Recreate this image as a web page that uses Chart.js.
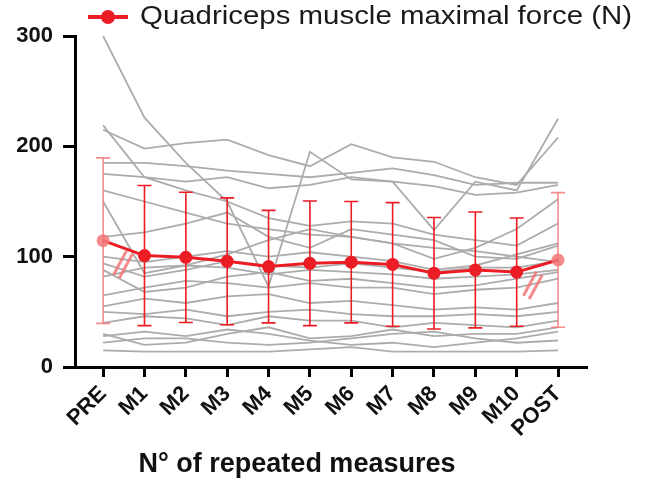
<!DOCTYPE html>
<html>
<head>
<meta charset="utf-8">
<script src="https://cdn.jsdelivr.net/npm/chart.js@4.4.0/dist/chart.umd.min.js"></script>
<style>
    body { margin: 0; background: #ffffff; }
    #grafico-container { width: 653px; height: 484px; }
</style>
</head>
<body>
<div id="grafico-container">
    <canvas id="grafico-forca"></canvas>
</div>
<script>
// medidas repetidas (eixo x)
let medidas = ['PRE', 'M1', 'M2', 'M3', 'M4', 'M5', 'M6', 'M7', 'M8', 'M9', 'M10', 'POST'];

// media e desvio padrao (N)
let medias = [114.5, 101, 99.4, 95.8, 91, 94, 95, 93, 85, 88, 86, 97];
let desvios = [75, 63.5, 59, 57.5, 51, 56.5, 55, 56, 50.5, 52.5, 49, 61];

let ticksY = [0, 100, 200, 300];

// cada participante (N)
let sujeito1 = [300, 226, 185, 150, 73, 195, 170, 168, 124, 168, 160, 225];
let sujeito2 = [219, 172, 160, 150, 135, 128, 132, 130, 120, 115, 110, 130];
let sujeito3 = [215, 198, 203, 206, 192, 182, 202, 190, 186, 172, 165, 208];
let sujeito4 = [185, 185, 182, 178, 175, 172, 176, 180, 174, 165, 167, 167];
let sujeito5 = [175, 172, 168, 172, 162, 165, 172, 168, 164, 156, 158, 165];
let sujeito6 = [150, 85, 92, 102, 115, 125, 118, 112, 98, 108, 125, 152];
let sujeito7 = [118, 122, 130, 140, 118, 108, 125, 120, 115, 100, 98, 110];
let sujeito8 = [100, 95, 100, 105, 100, 104, 100, 96, 88, 92, 102, 112];
let sujeito9 = [94, 82, 88, 96, 92, 90, 94, 90, 86, 90, 90, 96];
let sujeito10 = [88, 68, 72, 82, 86, 78, 80, 76, 72, 74, 80, 86];
let sujeito11 = [82, 90, 92, 90, 84, 88, 86, 84, 80, 82, 84, 88];
let sujeito12 = [65, 72, 78, 76, 72, 76, 72, 72, 66, 70, 72, 80];
let sujeito13 = [55, 62, 58, 64, 66, 58, 60, 56, 52, 54, 52, 58];
let sujeito14 = [50, 48, 52, 46, 50, 52, 48, 46, 46, 48, 46, 50];
let sujeito15 = [40, 46, 44, 38, 46, 42, 42, 36, 40, 38, 36, 42];
let sujeito16 = [28, 32, 28, 34, 30, 24, 20, 22, 18, 22, 26, 32];
let sujeito17 = [22, 26, 26, 22, 20, 22, 26, 30, 32, 26, 22, 24];
let sujeito18 = [30, 20, 22, 30, 36, 26, 28, 34, 28, 30, 30, 36];
let sujeito19 = [15, 14, 14, 14, 14, 16, 18, 14, 14, 14, 14, 15];
let sujeito20 = [160, 150, 140, 130, 125, 120, 118, 112, 108, 105, 100, 95];

let sujeitos = [sujeito1, sujeito2, sujeito3, sujeito4, sujeito5, sujeito6, sujeito7, sujeito8, sujeito9, sujeito10,
    sujeito11, sujeito12, sujeito13, sujeito14, sujeito15, sujeito16, sujeito17, sujeito18, sujeito19, sujeito20];

// posicao das marcas de quebra (//) em valores do grafico
let quebrasX = [0.48, 10.39];
let quebrasY = [93, 74];

let corVermelha = 'rgb(236, 28, 36)';
let corClara = 'rgba(242, 120, 120, 0.85)';
let corCinza = 'rgb(172, 172, 172)';

function pontos(valores) {
    return valores.map(function (v, i) { return { x: i, y: v }; });
}

let conjuntos = [{
    label: 'Quadriceps muscle maximal force (N)',
    data: pontos(medias),
    borderColor: corVermelha,
    borderWidth: 3,
    pointRadius: 6.5,
    pointHoverRadius: 6.5,
    pointBorderWidth: 0,
    pointBackgroundColor: medias.map(function (v, i) {
        return (i == 0 || i == medias.length - 1) ? corClara : corVermelha;
    }),
    order: 0
}];

for (let i = 0; i < sujeitos.length; i++) {
    conjuntos.push({
        label: 'sujeito ' + (i + 1),
        data: pontos(sujeitos[i]),
        borderColor: corCinza,
        borderWidth: 1.8,
        pointRadius: 0,
        order: 1
    });
}

const extras = {
    id: 'extras',
    beforeDatasetDraw(chart, args) {
        if (args.index != 0) return;
        let ctx = chart.ctx;
        let x = chart.scales.x;
        let y = chart.scales.y;
        ctx.save();
        ctx.lineWidth = 1.6;
        for (let i = 0; i < medias.length; i++) {
            let px = x.getPixelForValue(i);
            let topo = y.getPixelForValue(medias[i] + desvios[i]);
            let base = y.getPixelForValue(medias[i] - desvios[i]);
            ctx.strokeStyle = (i == 0 || i == medias.length - 1) ? corClara : corVermelha;
            ctx.beginPath();
            ctx.moveTo(px, topo);
            ctx.lineTo(px, base);
            ctx.moveTo(px - 7, topo);
            ctx.lineTo(px + 7, topo);
            ctx.moveTo(px - 7, base);
            ctx.lineTo(px + 7, base);
            ctx.stroke();
        }
        ctx.restore();
    },
    afterDatasetsDraw(chart) {
        let ctx = chart.ctx;
        let x = chart.scales.x;
        let y = chart.scales.y;
        ctx.save();
        ctx.strokeStyle = corClara;
        ctx.lineWidth = 3;
        for (let i = 0; i < quebrasX.length; i++) {
            let cx = x.getPixelForValue(quebrasX[i]);
            let cy = y.getPixelForValue(quebrasY[i]);
            let dx = 6.5, dy = -12;
            for (let k = -1; k <= 1; k += 2) {
                let ox = k * 2.9, oy = k * 1.6;
                ctx.beginPath();
                ctx.moveTo(cx - dx + ox, cy - dy + oy);
                ctx.lineTo(cx + dx + ox, cy + dy + oy);
                ctx.stroke();
            }
        }
        ctx.restore();
    },
    afterDraw(chart) {
        let ctx = chart.ctx;
        let area = chart.chartArea;
        ctx.save();

        // legenda
        let ly = 17;
        ctx.strokeStyle = corVermelha;
        ctx.lineWidth = 4;
        ctx.beginPath();
        ctx.moveTo(area.left + 13, ly);
        ctx.lineTo(area.left + 53, ly);
        ctx.stroke();
        ctx.fillStyle = corVermelha;
        ctx.beginPath();
        ctx.arc(area.left + 33, ly, 7, 0, Math.PI * 2);
        ctx.fill();

        let texto = conjuntos[0].label;
        ctx.font = '25px "Liberation Sans", Arial, sans-serif';
        ctx.fillStyle = '#1a1a1a';
        ctx.textBaseline = 'middle';
        let largura = ctx.measureText(texto).width;
        ctx.translate(area.left + 65, ly);
        ctx.scale(492 / largura, 1);
        ctx.fillText(texto, 0, 0);
        ctx.restore();

        // titulo do eixo x
        ctx.save();
        ctx.font = 'bold 27px "Liberation Sans", Arial, sans-serif';
        ctx.fillStyle = '#111111';
        ctx.textAlign = 'center';
        ctx.textBaseline = 'middle';
        ctx.fillText('N° of repeated measures', area.left + 222, 465);
        ctx.restore();
    }
};

Chart.defaults.font.family = '"Liberation Sans", Arial, sans-serif';
Chart.defaults.color = '#111111';

let config = {
    type: 'line',
    data: { datasets: conjuntos },
    options: {
        responsive: true,
        maintainAspectRatio: false,
        animation: false,
        layout: {
            padding: { top: 36, right: 66, left: 0, bottom: 0 }
        },
        plugins: {
            legend: { display: false },
            tooltip: { enabled: false }
        },
        scales: {
            x: {
                type: 'linear',
                min: -0.68,
                max: 11.7,
                afterFit: function (scale) { scale.height = 117; },
                afterBuildTicks: function (scale) {
                    scale.ticks = medidas.map(function (m, i) { return { value: i }; });
                },
                ticks: {
                    autoSkip: false,
                    minRotation: 45,
                    maxRotation: 45,
                    padding: 4,
                    font: { size: 22, weight: 'bold' },
                    callback: function (valor) { return medidas[valor]; }
                },
                grid: {
                    drawOnChartArea: false,
                    drawTicks: true,
                    tickLength: 10,
                    tickWidth: 3,
                    tickColor: '#000000'
                },
                border: { display: true, color: '#000000', width: 3 }
            },
            y: {
                min: 0,
                max: 300,
                afterFit: function (scale) { scale.width = 75; },
                afterBuildTicks: function (scale) {
                    scale.ticks = ticksY.map(function (v) { return { value: v }; });
                },
                ticks: {
                    padding: 10,
                    font: { size: 22, weight: 'bold' }
                },
                grid: {
                    drawOnChartArea: false,
                    drawTicks: true,
                    tickLength: 12,
                    tickWidth: 3,
                    tickColor: '#000000'
                },
                border: { display: true, color: '#000000', width: 3 }
            }
        }
    },
    plugins: [extras]
};

let meuGrafico = new Chart(document.getElementById('grafico-forca'), config);
</script>
</body>
</html>
